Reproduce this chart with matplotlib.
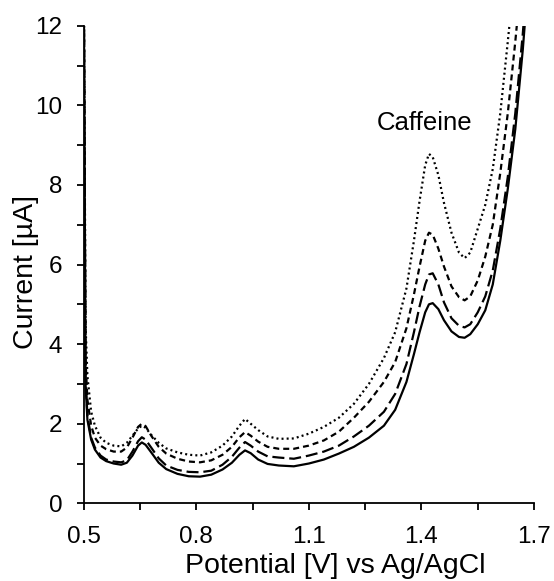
import numpy as np
import matplotlib
matplotlib.use("Agg")
import matplotlib.pyplot as plt
from matplotlib.ticker import FixedLocator

plt.rcParams['font.family'] = ['Liberation Sans', 'DejaVu Sans']

# potential (V) grid shared by all four voltammograms
potential = [0.500, 0.505, 0.510, 0.520, 0.530, 0.545, 0.560, 0.580, 0.600, 0.615,
             0.630, 0.645, 0.655, 0.665, 0.680, 0.700, 0.720, 0.750, 0.780, 0.810,
             0.840, 0.870, 0.895, 0.915, 0.930, 0.945, 0.965, 0.990, 1.020, 1.060,
             1.100, 1.140, 1.180, 1.220, 1.260, 1.300, 1.330, 1.360, 1.380, 1.395,
             1.410, 1.420, 1.430, 1.445, 1.460, 1.480, 1.500, 1.515, 1.530, 1.550,
             1.570, 1.590, 1.610, 1.630, 1.650, 1.670, 1.690, 1.700]

# current (uA), lowest to highest caffeine level
solid = [14, 3.0, 2.1, 1.6, 1.35, 1.15, 1.06, 1.00, 0.97, 1.02,
         1.20, 1.45, 1.53, 1.47, 1.28, 1.02, 0.86, 0.74, 0.68, 0.67,
         0.72, 0.85, 1.02, 1.22, 1.33, 1.26, 1.10, 0.99, 0.95, 0.93,
         1.00, 1.10, 1.25, 1.42, 1.65, 1.95, 2.35, 3.05, 3.75, 4.30,
         4.80, 5.00, 5.03, 4.88, 4.60, 4.32, 4.18, 4.16, 4.25, 4.50,
         4.85, 5.50, 6.60, 7.90, 9.40, 11.4, 13.8, 15]
long_dash = [14, 3.2, 2.2, 1.65, 1.40, 1.20, 1.10, 1.05, 1.03, 1.08,
             1.30, 1.56, 1.66, 1.60, 1.40, 1.13, 0.95, 0.84, 0.79, 0.78,
             0.82, 0.97, 1.17, 1.40, 1.54, 1.45, 1.30, 1.18, 1.15, 1.12,
             1.20, 1.30, 1.45, 1.68, 1.95, 2.30, 2.75, 3.50, 4.30, 4.95,
             5.50, 5.75, 5.78, 5.50, 5.05, 4.65, 4.46, 4.42, 4.50, 4.80,
             5.20, 5.85, 6.90, 8.20, 9.80, 11.8, 14.2, 15.5]
short_dash = [14, 3.6, 2.6, 1.95, 1.65, 1.45, 1.36, 1.30, 1.30, 1.40,
              1.65, 1.92, 2.00, 1.94, 1.70, 1.42, 1.25, 1.12, 1.05, 1.03,
              1.08, 1.22, 1.42, 1.66, 1.79, 1.70, 1.55, 1.42, 1.37, 1.37,
              1.45, 1.58, 1.80, 2.15, 2.55, 3.05, 3.55, 4.40, 5.25, 5.95,
              6.60, 6.80, 6.75, 6.40, 5.95, 5.45, 5.18, 5.10, 5.20, 5.60,
              6.20, 7.00, 8.30, 9.80, 11.6, 13.6, 16, 17]
dotted = [14, 4.5, 3.2, 2.3, 1.95, 1.65, 1.52, 1.45, 1.43, 1.52,
          1.70, 1.88, 1.95, 1.90, 1.72, 1.52, 1.38, 1.28, 1.22, 1.20,
          1.28, 1.45, 1.68, 1.95, 2.12, 2.00, 1.84, 1.68, 1.62, 1.63,
          1.75, 1.92, 2.15, 2.50, 3.00, 3.65, 4.30, 5.40, 6.60, 7.60,
          8.50, 8.78, 8.70, 8.25, 7.55, 6.80, 6.30, 6.16, 6.30, 6.90,
          7.50, 8.40, 9.80, 11.6, 13.5, 15.5, 18, 19]

x_major = [0.5, 0.8, 1.1, 1.4, 1.7]
x_minor = [0.65, 0.95, 1.25, 1.55]
y_major = [0, 2, 4, 6, 8, 10, 12]
y_minor = [1, 3, 5, 7, 9, 11]

fig = plt.figure(figsize=(5.54, 5.81), dpi=100)
ax = fig.add_axes([0.151, 0.1337, 0.813, 0.822])

lw = 1.6
ax.plot(potential, solid, color='black', lw=lw)
ax.plot(potential, long_dash, color='black', lw=lw, dashes=(5.4, 2.2))
ax.plot(potential, short_dash, color='black', lw=lw, dashes=(2.7, 1.8))
ax.plot(potential, dotted, color='black', lw=lw, dashes=(0.9, 1.4))

ax.set_xlim(0.5, 1.7)
ax.set_ylim(0, 12)
ax.xaxis.set_major_locator(FixedLocator(x_major))
ax.xaxis.set_minor_locator(FixedLocator(x_minor))
ax.yaxis.set_major_locator(FixedLocator(y_major))
ax.yaxis.set_minor_locator(FixedLocator(y_minor))
ax.set_xticklabels([f"{v:.1f}" for v in x_major])

for s in ['top', 'right']:
    ax.spines[s].set_visible(False)
for s in ['left', 'bottom']:
    ax.spines[s].set_linewidth(1.3)
ax.tick_params(which='both', direction='out', length=5, width=1.3, labelsize=17.5)
ax.tick_params(axis='x', pad=11)
ax.tick_params(axis='y', pad=10.5)

ax.set_xlabel('Potential [V] vs Ag/AgCl', fontsize=20.5, labelpad=4, x=0.558)
ax.set_ylabel('Current [µA]', fontsize=20.5, labelpad=-3, y=0.484)
ax.text(1.409, 9.56, 'Caffeine', fontsize=18.5, ha='center', va='center')

plt.savefig('out.png', dpi=100)
